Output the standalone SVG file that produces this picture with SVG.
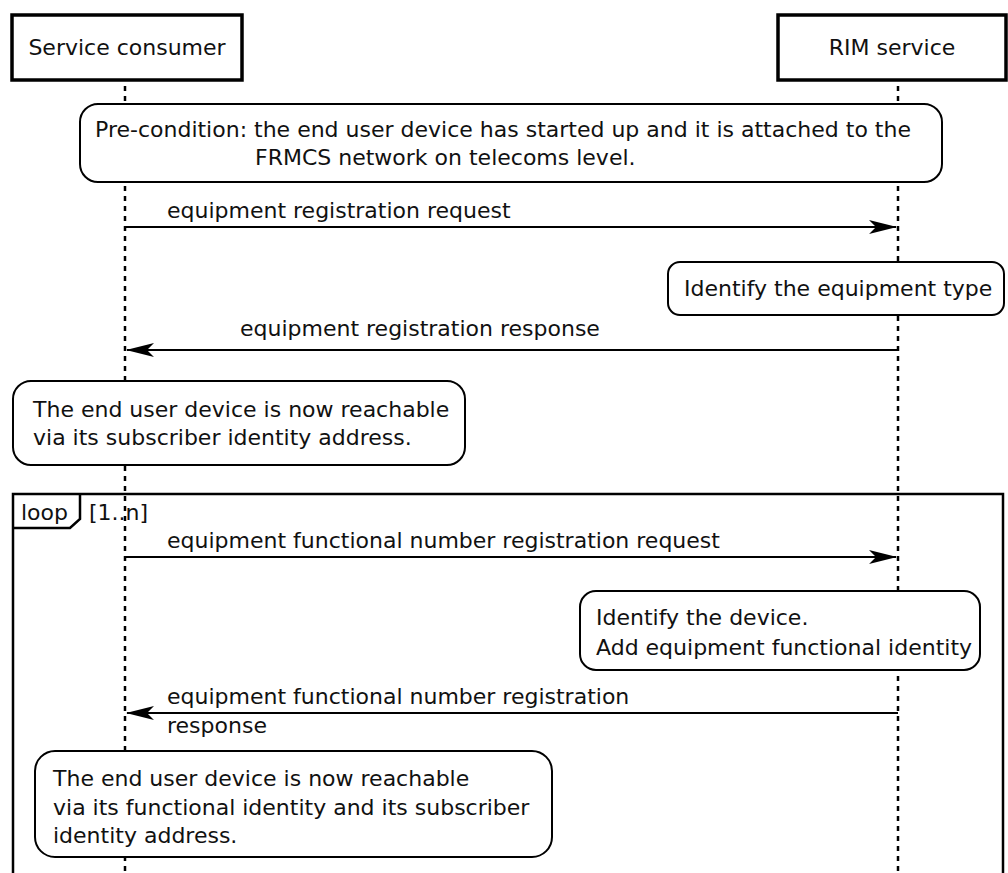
<svg xmlns="http://www.w3.org/2000/svg" width="1008" height="873" viewBox="0 0 1008 873">
  <style>
    text { font-family: "DejaVu Sans", "Liberation Sans", sans-serif; fill: #111; }
    .hdr { font-size: 22px; }
    .txt { font-size: 22px; }
    .box { fill: #fff; stroke: #000; stroke-width: 3.5; }
    .note { fill: #fff; stroke: #000; stroke-width: 2; }
    .life { stroke: #000; stroke-width: 2.5; stroke-dasharray: 5 5; fill: none; }
    .msg { stroke: #000; stroke-width: 2; fill: none; }
    .frame { fill: none; stroke: #000; stroke-width: 2.5; }
  </style>
  <defs>
    <marker id="head" viewBox="0 0 28 14" refX="27" refY="7" markerWidth="28" markerHeight="14" markerUnits="userSpaceOnUse" orient="auto-start-reverse">
      <path d="M0,0 L28,7 L0,14 L7,7 Z" fill="#000"/>
    </marker>
  </defs>
  <rect width="1008" height="873" fill="#fff"/>

  <!-- lifelines -->
  <g id="lifelines">
    <line class="life" x1="125" y1="86" x2="125" y2="873"/>
    <line class="life" x1="898" y1="86" x2="898" y2="873"/>
  </g>

  <!-- participants -->
  <g id="service-consumer">
    <rect class="box" x="12" y="15" width="230" height="65"/>
    <text class="hdr" x="127" y="55" text-anchor="middle">Service consumer</text>
  </g>
  <g id="rim-service">
    <rect class="box" x="778" y="15" width="228" height="65"/>
    <text class="hdr" x="892" y="55" text-anchor="middle">RIM service</text>
  </g>

  <!-- loop fragment -->
  <g id="loop">
    <rect class="frame" x="13" y="494" width="990" height="400"/>
    <path class="frame" d="M13,528 L70,528 L80,519 L80,494"/>
    <text class="txt" x="21" y="520">loop</text>
    <text class="txt" x="89" y="520">[1..n]</text>
  </g>

  <!-- notes -->
  <g id="note-precondition">
    <rect class="note" x="80" y="104" width="862" height="78" rx="18"/>
    <text class="txt" x="95" y="137">Pre-condition: the end user device has started up and it is attached to the</text>
    <text class="txt" x="255" y="165">FRMCS network on telecoms level.</text>
  </g>
  <g id="note-identify-type">
    <rect class="note" x="668" y="262" width="336" height="53" rx="12"/>
    <text class="txt" x="684" y="296">Identify the equipment type</text>
  </g>
  <g id="note-reachable-subscriber">
    <rect class="note" x="13" y="381" width="452" height="84" rx="18"/>
    <text class="txt" x="33" y="417">The end user device is now reachable</text>
    <text class="txt" x="33" y="445">via its subscriber identity address.</text>
  </g>
  <g id="note-identify-device">
    <rect class="note" x="580" y="591" width="400" height="79" rx="16"/>
    <text class="txt" x="596" y="625">Identify the device.</text>
    <text class="txt" x="596" y="655">Add equipment functional identity</text>
  </g>
  <g id="note-reachable-functional">
    <rect class="note" x="35" y="751" width="517" height="106" rx="20"/>
    <text class="txt" x="53" y="786">The end user device is now reachable</text>
    <text class="txt" x="53" y="815">via its functional identity and its subscriber</text>
    <text class="txt" x="53" y="843">identity address.</text>
  </g>

  <!-- messages -->
  <g id="connectors">
    <line class="msg" x1="125" y1="227" x2="896" y2="227" marker-end="url(#head)"/>
    <text class="txt" x="167" y="218">equipment registration request</text>

    <line class="msg" x1="898" y1="350" x2="127" y2="350" marker-end="url(#head)"/>
    <text class="txt" x="240" y="336">equipment registration response</text>

    <line class="msg" x1="125" y1="557" x2="896" y2="557" marker-end="url(#head)"/>
    <text class="txt" x="167" y="548">equipment functional number registration request</text>

    <line class="msg" x1="898" y1="713" x2="127" y2="713" marker-end="url(#head)"/>
    <text class="txt" x="167" y="704">equipment functional number registration</text>
    <text class="txt" x="167" y="733">response</text>
  </g>
</svg>
